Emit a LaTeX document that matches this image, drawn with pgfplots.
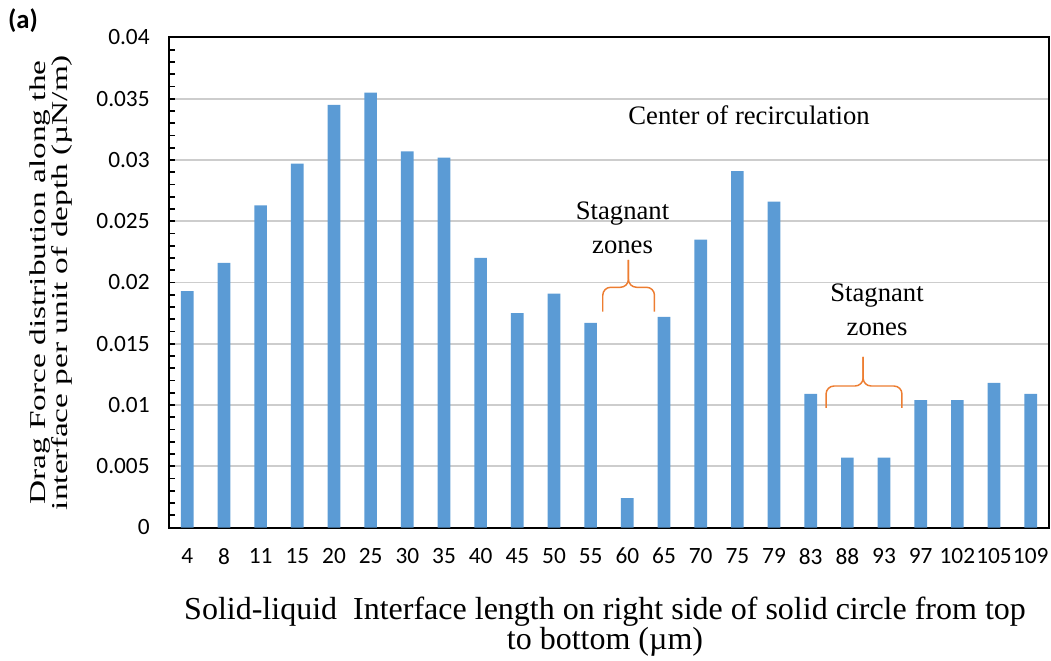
\documentclass[border=0pt]{standalone}
\usepackage{graphicx}
\usepackage{fontspec}
\setmainfont{Liberation Serif}
\setsansfont{Carlito}
\usepackage{pgfplots}
\pgfplotsset{compat=1.18}
\usepackage{pgfplotstable}
\definecolor{barblue}{RGB}{91,155,213}
\definecolor{braceorange}{RGB}{237,125,49}
\definecolor{gridgray}{RGB}{205,205,205}

\pgfplotstableread{
idx val
0  0.0193
1  0.0216
2  0.0263
3  0.0297
4  0.0345
5  0.0355
6  0.0307
7  0.0302
8  0.0220
9  0.0175
10 0.0191
11 0.0167
12 0.0024
13 0.0172
14 0.0235
15 0.0291
16 0.0266
17 0.0109
18 0.0057
19 0.0057
20 0.0104
21 0.0104
22 0.0118
23 0.0109
}\dragdata

\begin{document}
\begin{tikzpicture}
\useasboundingbox (-126.75pt,-100.125pt) rectangle (661.5pt,395.625pt);
\begin{axis}[
  at={(0,0)}, anchor=south west,
  scale only axis,
  width=660pt, height=367.5pt,
  xmin=-0.5, xmax=23.5,
  ymin=0, ymax=0.04,
  ytick={0,0.005,0.01,0.015,0.02,0.025,0.03,0.035,0.04},
  minor y tick num=4,
  xtick={0,...,23},
  xticklabels={4,8,11,15,20,25,30,35,40,45,50,55,60,65,70,75,79,83,88,93,97,102,105,109},
  scaled y ticks=false,
  yticklabel style={/pgf/number format/fixed, /pgf/number format/precision=3,
     /pgf/number format/assume math mode=true,
     font=\sffamily\fontsize{17.5}{19}\selectfont, anchor=east, xshift=-11pt},
  xticklabel style={font=\sffamily\fontsize{17.5}{19}\selectfont, yshift=-12pt},
  ytick pos=left,
  xtick pos=bottom,
  xtick style={draw=none},
  tick align=inside,
  major tick length=4.5pt,
  minor tick length=4.5pt,
  every tick/.style={black, line width=1.2pt},
  axis line style={black, line width=1.5pt},
  ymajorgrids,
  grid style={gridgray, line width=1.2pt},
  xlabel={\parbox{720pt}{\centering\lineskiplimit=-100pt\fontsize{24}{22.5}\selectfont Solid-liquid\ \ Interface length on right side of solid circle from top\\ to bottom (µm)}},
  xlabel style={at={(axis description cs:0.4955,-0.203)}, anchor=center},
  ylabel={\scalebox{1}[0.68]{\parbox{360pt}{\centering\lineskiplimit=-100pt\fontsize{25}{24}\selectfont Drag Force distribution along the\\ interface per unit of depth (µN/m)}}},
  ylabel style={at={(axis description cs:-0.1340,0.5)}, anchor=center, rotate=0},
  clip=false,
]
\addplot[ybar, bar width=9.5pt, fill=barblue, draw=none] table[x=idx, y=val] {\dragdata};

\node[anchor=base, font=\fontsize{20}{24}\selectfont] at (axis cs:15.32,0.03286) {Center of recirculation};
\node[anchor=base, font=\fontsize{20}{24}\selectfont] at (axis cs:11.87,0.02518) {Stagnant};
\node[anchor=base, font=\fontsize{20}{24}\selectfont] at (axis cs:11.87,0.02233) {zones};
\node[anchor=base, font=\fontsize{20}{24}\selectfont] at (axis cs:18.81,0.01843) {Stagnant};
\node[anchor=base, font=\fontsize{20}{24}\selectfont] at (axis cs:18.81,0.01571) {zones};

\draw[braceorange, line width=1.1pt, rounded corners=6pt] (axis cs:11.33,0.01762) -- (axis cs:11.33,0.01961) -- (axis cs:12.03,0.01961) -- (axis cs:12.03,0.02184);
\draw[braceorange, line width=1.1pt, rounded corners=6pt] (axis cs:12.74,0.01762) -- (axis cs:12.74,0.01961) -- (axis cs:12.03,0.01961) -- (axis cs:12.03,0.02184);
\draw[braceorange, line width=1.1pt, rounded corners=6pt] (axis cs:17.42,0.00976) -- (axis cs:17.42,0.01155) -- (axis cs:18.43,0.01155) -- (axis cs:18.43,0.01392);
\draw[braceorange, line width=1.1pt, rounded corners=6pt] (axis cs:19.49,0.00976) -- (axis cs:19.49,0.01155) -- (axis cs:18.43,0.01155) -- (axis cs:18.43,0.01392);

\node[font=\sffamily\bfseries\fontsize{20}{23}\selectfont] at (axis description cs:-0.166,1.035) {(a)};
\end{axis}
\end{tikzpicture}
\end{document}
